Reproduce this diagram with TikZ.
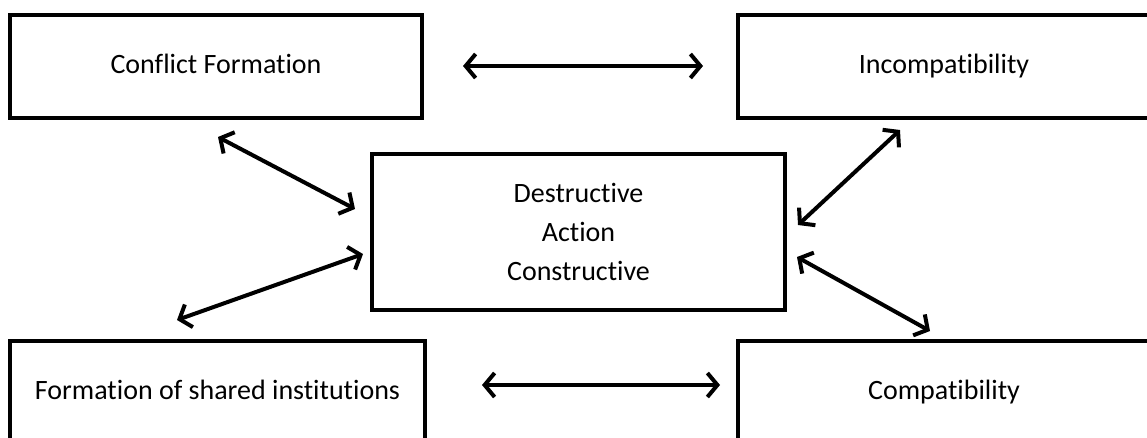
\documentclass[tikz,border=0pt]{standalone}
\usepackage{fontspec}
\setmainfont{Carlito}[Ligatures={NoCommon}]
\usetikzlibrary{arrows.meta}

\begin{document}
\begin{tikzpicture}[x=1pt, y=-1pt,
  every node/.style={draw, line width=4pt, inner sep=0pt, align=center,
    font=\fontsize{28}{39}\selectfont},
  box/.style={minimum width=412pt, minimum height=103pt, text height=19pt, text depth=6pt},
  link/.style={{Straight Barb[length=10pt,width=24pt]}-{Straight Barb[length=10pt,width=24pt]},
    line width=4pt}]
  \useasboundingbox (0,0) rectangle (1147,437);
  \node[box] (cf) at (216,66.5) {Conflict Formation};
  \node[box] (inc) at (944,66.5) {Incompatibility};
  \node[minimum width=413pt, minimum height=156pt, line width=3.5pt] (act) at (578.5,232)
    {Destructive\\Action\\Constructive};
  \node[box, minimum width=415pt] (fsi) at (217.5,392.5) {Formation of shared institutions};
  \node[box] (cmp) at (944,392.5) {Compatibility};
  % free ends of the links
  \coordinate (cfR) at (463,66);
  \coordinate (incL) at (703,66);
  \coordinate (fsiR) at (482,385);
  \coordinate (cmpL) at (720,385);
  \coordinate (cfB) at (218,137);
  \coordinate (actNW) at (355,209);
  \coordinate (fsiT) at (177,320);
  \coordinate (actSW) at (363,254);
  \coordinate (incB) at (900,130);
  \coordinate (actNE) at (798,225);
  \coordinate (cmpT) at (930,331);
  \coordinate (actSE) at (797,257);
  \draw[link] (cfR) -- (incL);
  \draw[link] (fsiR) -- (cmpL);
  \draw[link] (cfB) -- (actNW);
  \draw[link] (fsiT) -- (actSW);
  \draw[link] (actNE) -- (incB);
  \draw[link] (actSE) -- (cmpT);
\end{tikzpicture}
\end{document}
